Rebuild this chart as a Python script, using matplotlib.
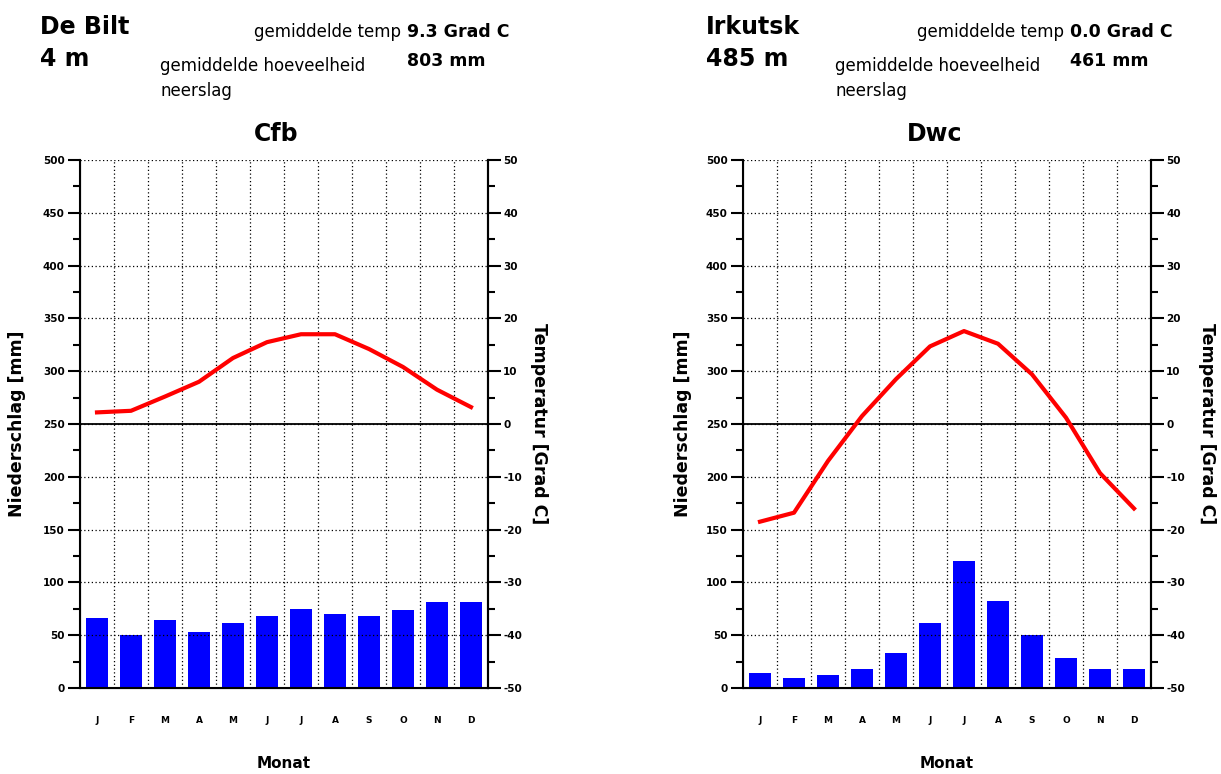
import numpy as np
import matplotlib
matplotlib.use("Agg")
import matplotlib.pyplot as plt
from matplotlib.ticker import MultipleLocator

plt.rcParams['font.family'] = ['DejaVu Sans']
plt.rcParams['axes.unicode_minus'] = False

months = ['J', 'F', 'M', 'A', 'M', 'J', 'J', 'A', 'S', 'O', 'N', 'D']

# De Bilt
bilt_temp = [2.2, 2.5, 5.2, 8.0, 12.5, 15.5, 17.0, 17.0, 14.2, 10.8, 6.5, 3.2]
bilt_prec = [66, 50, 64, 53, 62, 68, 75, 70, 68, 74, 81, 81]

# Irkutsk
irk_temp = [-18.5, -16.8, -7.0, 1.5, 8.5, 14.7, 17.6, 15.2, 9.4, 1.2, -9.3, -16.0]
irk_prec = [14, 9, 12, 18, 33, 62, 120, 82, 50, 28, 18, 18]

stations = [
    dict(name='De Bilt', height='4 m', climate='Cfb', mean_t='9.3', total_p='803',
         temp=bilt_temp, prec=bilt_prec),
    dict(name='Irkutsk', height='485 m', climate='Dwc', mean_t='0.0', total_p='461',
         temp=irk_temp, prec=irk_prec),
]

fig = plt.figure(figsize=(12.21, 7.74), dpi=100)
W, H = 1221, 774


def px(x, y):
    return x / W, 1 - y / H


grid_kw = dict(color='black', linestyle=(0, (1, 2)), linewidth=0.9)

for i, st in enumerate(stations):
    x0 = [80, 743][i]
    ax = fig.add_axes([x0 / W, 1 - 688 / H, 408 / W, 528 / H])
    x = np.arange(12)
    ax.bar(x, st['prec'], width=0.65, color='#0000ff', zorder=1)
    ax.set_xlim(-0.5, 11.5)
    ax.set_ylim(0, 500)
    ax.yaxis.set_major_locator(MultipleLocator(50))
    ax.yaxis.set_minor_locator(MultipleLocator(25))
    ax.set_xticks(x)
    ax.set_xticklabels(months, fontsize=6.5, fontweight='bold')
    ax.set_xticks(np.arange(0.5, 11, 1), minor=True)
    ax.tick_params(axis='x', which='both', length=0, pad=20)
    ax.tick_params(axis='y', which='major', length=9, width=1.5, labelsize=7.5, pad=2)
    ax.tick_params(axis='y', which='minor', length=5, width=1.5)
    for lab in ax.get_yticklabels():
        lab.set_fontweight('bold')
    ax.grid(True, axis='y', which='major', **grid_kw)
    ax.grid(True, axis='x', which='minor', **grid_kw)
    ax.set_axisbelow(False)
    ax.axhline(250, color='black', linewidth=1.3, zorder=3)
    ax.spines['top'].set_visible(False)
    for s in ['left', 'right', 'bottom']:
        ax.spines[s].set_linewidth(1.5)
    ax.set_ylabel('Niederschlag [mm]', fontsize=12.5, fontweight='bold')
    ax.yaxis.set_label_coords([-0.132, -0.125][i], 0.5)
    ax.set_title(st['climate'], fontsize=17, fontweight='bold', pad=14,
                 x=[0.48, 0.47][i])
    mx = x0 + 204
    fig.text(*px(mx, 763), 'Monat', fontsize=11, fontweight='bold',
             ha='center', va='center')

    ax2 = ax.twinx()
    ax2.plot(x, st['temp'], color='#ff0000', linewidth=3, zorder=4)
    ax2.set_ylim(-50, 50)
    ax2.yaxis.set_major_locator(MultipleLocator(10))
    ax2.yaxis.set_minor_locator(MultipleLocator(5))
    ax2.tick_params(axis='y', which='major', length=9, width=1.5, labelsize=7.5, pad=2)
    ax2.tick_params(axis='y', which='minor', length=5, width=1.5)
    for lab in ax2.get_yticklabels():
        lab.set_fontweight('bold')
    ax2.spines['top'].set_visible(False)
    ax2.spines['right'].set_linewidth(1.5)
    ax2.set_ylabel('Temperatur [Grad C]', fontsize=12.5, fontweight='bold', rotation=-90)
    ax2.yaxis.set_label_coords([1.147, 1.159][i], 0.5)

    # header
    hx = [40, 706][i]
    fig.text(*px(hx, 27), st['name'], fontsize=17, fontweight='bold', va='center')
    fig.text(*px(hx, 59), st['height'], fontsize=17, fontweight='bold', va='center')
    vx = [407, 1070][i]
    fig.text(*px(vx - 6, 32), 'gemiddelde temp', fontsize=12, ha='right', va='center')
    fig.text(*px(vx, 32), st['mean_t'] + ' Grad C', fontsize=12.5, fontweight='bold', va='center')
    lx = [160, 835][i]
    fig.text(*px(lx, 66), 'gemiddelde hoeveelheid', fontsize=12, va='center')
    fig.text(*px(lx, 91), 'neerslag', fontsize=12, va='center')
    fig.text(*px(vx, 61), st['total_p'] + ' mm', fontsize=12.5, fontweight='bold', va='center')

fig.savefig('out.png', dpi=100)
